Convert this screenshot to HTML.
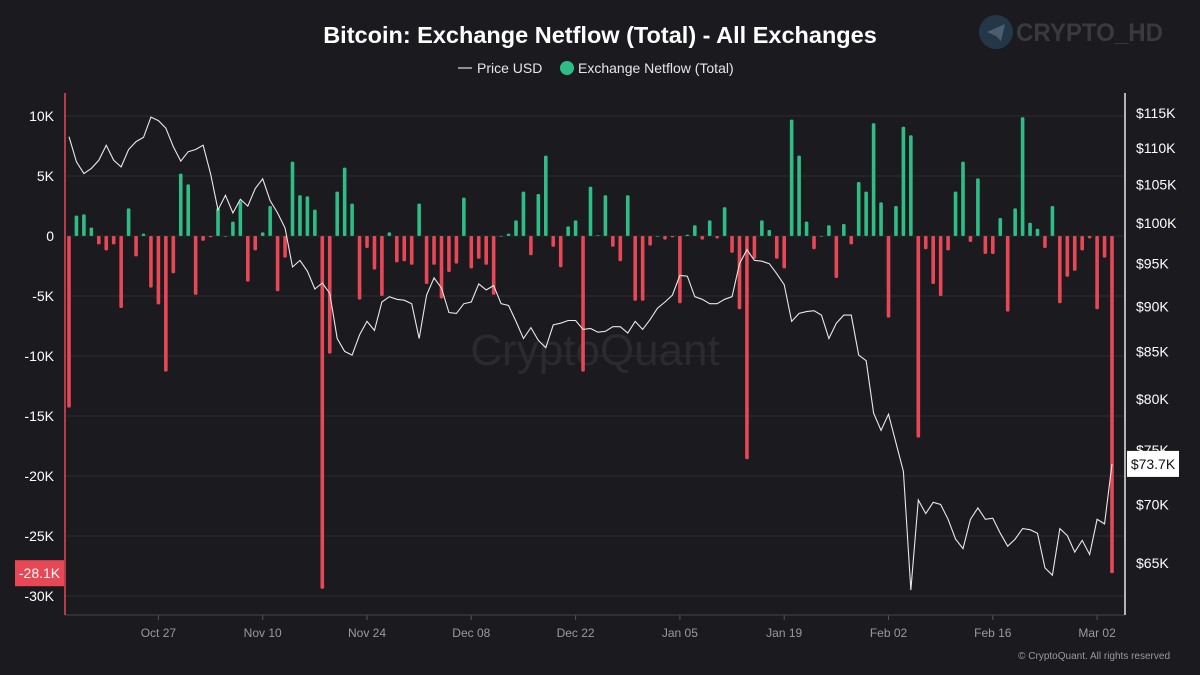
<!DOCTYPE html>
<html><head><meta charset="utf-8">
<style>
html,body{margin:0;padding:0;background:#1b1b1f;}
svg{display:block;font-family:"Liberation Sans",sans-serif;}
</style></head>
<body>
<svg id="chart" width="1200" height="675" viewBox="0 0 1200 675">
<rect x="0" y="0" width="1200" height="675" fill="#1b1b1f"/>
<text x="600" y="43" text-anchor="middle" fill="#ffffff" font-size="23.5" font-weight="bold">Bitcoin: Exchange Netflow (Total) - All Exchanges</text>
<g>
<line x1="458" y1="68" x2="472" y2="68" stroke="#ddd" stroke-width="1.2"/>
<text x="477" y="73" fill="#e6e6e6" font-size="14">Price USD</text>
<circle cx="567" cy="68" r="7" fill="#2ebd85"/>
<text x="578" y="73" fill="#e6e6e6" font-size="14">Exchange Netflow (Total)</text>
</g>
<g opacity="0.6">
<circle cx="996" cy="32" r="17" fill="#2a4a66"/>
<path d="M987 32 L1005 24 L1001 41 L996 36 Z" fill="#6e8aa3"/>
<text x="1016" y="41" fill="#505054" font-size="25" font-weight="bold" textLength="147" lengthAdjust="spacingAndGlyphs">CRYPTO_HD</text>
</g>
<text x="595" y="365" text-anchor="middle" fill="#2a2a2f" font-size="44">CryptoQuant</text>
<g id="grid"></g>
<g id="bars"></g>
<g id="line"></g>
<g id="axes"></g>
<text x="1170" y="659" text-anchor="end" fill="#9a9a9a" font-size="10">© CryptoQuant. All rights reserved</text>
</svg>
<script>
const netflow = [-14.3,1.7,1.8,0.7,-0.7,-1.2,-0.7,-6.0,2.3,-1.7,0.2,-4.3,-5.7,-11.3,-3.1,5.2,4.3,-4.9,-0.4,-0.1,2.3,0,1.2,2.9,-3.8,-1.2,0.3,2.5,-4.6,-1.8,6.2,3.4,3.3,2.2,-29.4,
-9.8,3.7,5.7,2.7,-5.3,-1.0,-2.8,-5.0,0.3,-2.2,-2.1,-2.4,2.7,-4.0,-2.4,-5.2,-3.0,-2.3,3.2,-2.7,-1.9,-2.4,-4.9,0,0.2,1.3,3.7,-1.6,3.5,6.7,-0.9,-2.6,0.8,1.3,-11.3,
4.1,0.05,3.4,-0.9,-2.1,3.4,-5.4,-5.4,-0.8,0,-0.3,-0.1,-5.6,0.1,0.9,-0.3,1.3,-0.2,2.4,-1.4,-6.1,-18.6,-1.9,1.3,0.5,-1.9,-2.7,9.7,6.7,1.2,-1.1,0,0.9,-3.5,1.0,
-0.7,4.5,3.7,9.4,2.8,-6.8,2.5,9.1,8.4,-16.8,-1.1,-4.0,-5.0,-1.2,3.7,6.2,-0.5,4.8,-1.5,-1.5,1.5,-6.3,2.3,9.9,1.1,0.6,-1.0,2.5,-5.6,-3.4,-2.9,-1.2,-0.2,-6.1,-1.8,-28.1];
const price = [111.6,108.1,106.5,107.2,108.3,110.4,108.3,107.4,109.8,110.9,111.5,114.4,113.9,112.8,110.2,108.2,109.5,109.8,110.4,106.5,101.7,103.6,101.3,103.1,102.2,104.5,105.8,102.9,101.3,99.4,94.6,95.4,94.1,92.0,92.7,91.5,
86.4,85.0,84.6,86.8,88.3,87.3,90.5,91.1,90.8,90.7,90.3,86.4,91.3,93.3,92.1,89.3,89.2,90.3,90.5,92.6,91.9,92.4,90.3,90.1,88.3,86.4,87.6,86.2,85.4,87.9,88.1,88.4,88.4,87.4,87.5,
87.1,87.2,87.7,87.7,87.0,88.3,87.4,88.5,89.8,90.5,91.3,93.6,93.5,91.1,90.8,90.3,90.3,90.8,91.1,95.0,96.7,95.4,95.3,95.0,93.8,92.5,88.3,89.2,89.4,89.5,89.0,86.4,88.1,89.0,
89.0,84.6,84.0,78.6,76.9,78.5,75.7,73.0,62.8,70.4,69.2,70.2,70.0,68.7,67.0,66.2,68.7,69.7,68.7,68.8,67.5,66.4,67.0,67.9,67.8,67.5,64.6,64.0,67.9,67.3,65.9,66.9,65.7,68.7,68.3,73.7];
const leftTicks = [10,5,0,-5,-10,-15,-20,-25,-30];
const leftTickLabels = ["10K","5K","0","-5K","-10K","-15K","-20K","-25K","-30K"];
const rightTicks = [115,110,105,100,95,90,85,80,75,70,65];
const xTickIndex = [12,26,40,54,68,82,96,110,124,138];
const xTickLabels = ["Oct 27","Nov 10","Nov 24","Dec 08","Dec 22","Jan 05","Jan 19","Feb 02","Feb 16","Mar 02"];

const NS="http://www.w3.org/2000/svg";
const X0=65,X1=1125,Y0=93,Y1=615;
const xs = i => 69 + i*7.45;
const yL = v => 236 - v*12;
const yR = p => 113 + 788.7*(Math.log(115)-Math.log(p));
function mk(tag,attrs,parent,text){const e=document.createElementNS(NS,tag);for(const k in attrs)e.setAttribute(k,attrs[k]);if(text!==undefined)e.textContent=text;parent.appendChild(e);return e;}
const grid=document.getElementById('grid'),bars=document.getElementById('bars'),line=document.getElementById('line'),axes=document.getElementById('axes');

leftTicks.forEach((v,k)=>{
  const g=mk('line',{x1:X0,x2:X1,y1:yL(v),y2:yL(v),stroke:'#2b2b30','stroke-width':1},grid);
  
  
  const t=mk('text',{x:54,y:yL(v)+5,'text-anchor':'end',fill:'#ffffff','font-size':14},axes,leftTickLabels[k]);
  
  
});
rightTicks.forEach(p=>{
  const t=mk('text',{x:1136,y:yR(p)+5,fill:'#ffffff','font-size':14},axes,'$'+p+'K');
  
  
});
xTickIndex.forEach((i,k)=>{
  const tk=mk('line',{x1:xs(i),x2:xs(i),y1:Y1,y2:Y1+5,stroke:'#555'},axes);
  
  
  const t=mk('text',{x:xs(i),y:637,'text-anchor':'middle',fill:'#9a9a9a','font-size':12},axes,xTickLabels[k]);
  
  
});
netflow.forEach((v,i)=>{
  const y=Math.min(yL(0),yL(v)),h=Math.max(Math.abs(yL(v)-yL(0)),0.6);
  const r=mk('rect',{x:xs(i)-1.8,y:y,width:3.6,height:h,rx:1.2,fill:v>=0?'#2ebd85':'#e84856'},bars);
  
  
});
const pl=mk('polyline',{points:price.map((p,i)=>xs(i)+','+yR(p).toFixed(1)).join(' '),fill:'none',stroke:'#e8e8e8','stroke-width':1.1},line);



const bx=mk('line',{x1:X0,x2:X1,y1:Y1,y2:Y1,stroke:'#444','stroke-width':1},axes);


const la=mk('line',{x1:X0,x2:X0,y1:Y0,y2:Y1,stroke:'#e84856','stroke-width':1.5},axes);


const ra=mk('line',{x1:X1,x2:X1,y1:Y0,y2:Y1,stroke:'#e8e8e8','stroke-width':1.5},axes);



const lastN=netflow[netflow.length-1],lastP=price[price.length-1];
const lb=mk('rect',{x:15,y:yL(lastN)-13,width:49,height:26,fill:'#e84856'},axes);


const lt=mk('text',{x:39.5,y:yL(lastN)+5,'text-anchor':'middle',fill:'#ffffff','font-size':14},axes,lastN.toFixed(1)+'K');


const rb=mk('rect',{x:1127,y:yR(lastP)-13,width:52,height:26,fill:'#ffffff'},axes);


const rt=mk('text',{x:1153,y:yR(lastP)+5,'text-anchor':'middle',fill:'#111','font-size':14},axes,'$'+lastP.toFixed(1)+'K');


</script>
</body></html>
